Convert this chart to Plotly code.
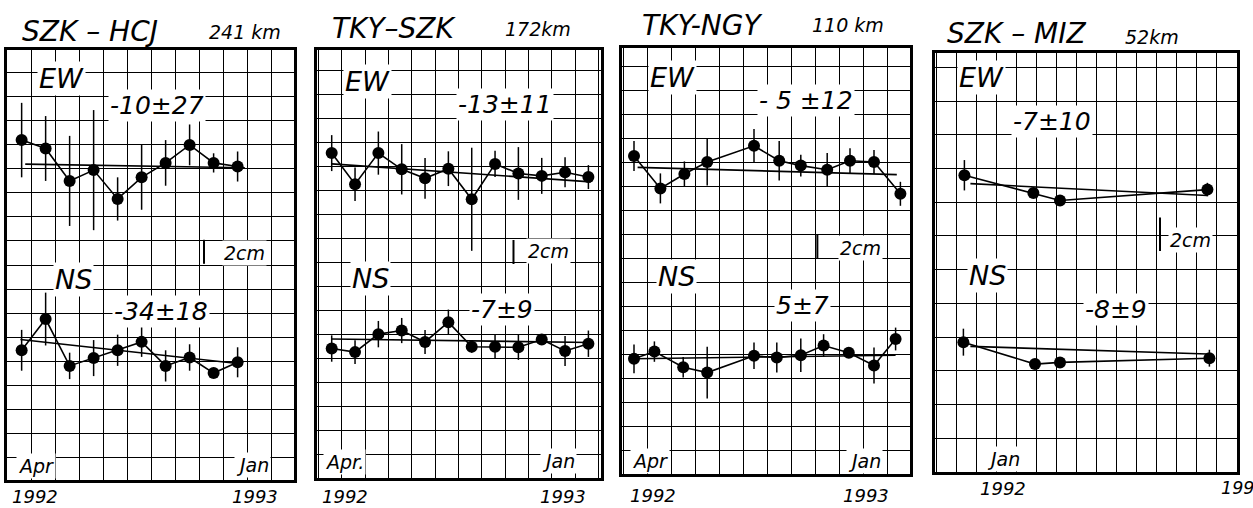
import plotly.graph_objects as go

W, H = 1253, 508
FONT = "DejaVu Sans"

# ---------------- data (cm offsets, months) ----------------
# Panel 1: SZK-HCJ, months since Apr 1992
p1_t = [0, 1, 2, 3, 4, 5, 6, 7, 8, 9]
p1_ew = [28.4, 27.7, 25.0, 25.9, 23.5, 25.3, 26.5, 28.0, 26.5, 26.2]
p1_ew_err = [3.1, 2.7, 3.75, 5.0, 1.8, 2.7, 1.9, 1.7, 0.8, 1.25]
p1_ew_fit_t = [0.15, 9.3]
p1_ew_fit = [26.4, 26.1]
p1_ns = [10.9, 13.5, 9.6, 10.25, 10.9, 11.6, 9.6, 10.3, 9.0, 9.9]
p1_ns_err = [1.7, 2.2, 1.1, 1.5, 1.3, 1.25, 1.3, 1.1, 0.4, 1.25]
p1_ns_fit_t = [-0.05, 9.0]
p1_ns_fit = [11.8, 9.8]

# Panel 2: TKY-SZK, months since Apr 1992
p2_t = [0, 1, 2, 3, 4, 5, 6, 7, 8, 9, 10, 11]
p2_ew = [27.1, 24.5, 27.1, 25.75, 25.0, 25.8, 23.25, 26.2, 25.4, 25.2, 25.5, 25.1]
p2_ew_err = [1.5, 1.4, 1.8, 2.1, 1.7, 1.45, 4.3, 1.1, 2.2, 1.5, 1.25, 1.0]
p2_ew_fit_t = [0, 11.1]
p2_ew_fit = [26.2, 24.7]
p2_ns = [10.8, 10.5, 12.0, 12.3, 11.35, 13.0, 10.95, 10.95, 10.9, 11.55, 10.6, 11.2]
p2_ns_err = [1.1, 1.0, 1.1, 1.05, 1.0, 1.05, 0.5, 1.0, 1.05, 0.4, 1.25, 1.1]
p2_ns_fit_t = [0, 11.1]
p2_ns_fit = [11.6, 11.3]

# Panel 3: TKY-NGY, months since Apr 1992
p3_ew_t = [0, 1.1, 2.1, 3.05, 5.0, 6.05, 6.95, 8.05, 9.0, 10.0, 11.1]
p3_ew = [26.5, 23.8, 25.0, 26.0, 27.35, 26.1, 25.7, 25.35, 26.1, 26.0, 23.35]
p3_ew_err = [1.25, 1.25, 1.05, 1.95, 1.4, 1.65, 0.9, 1.4, 1.05, 1.0, 1.0]
p3_ew_fit_t = [0.15, 10.95]
p3_ew_fit = [25.55, 24.95]
p3_ns_t = [0, 0.85, 2.05, 3.05, 5.0, 5.95, 6.95, 7.9, 8.95, 10.0, 10.9]
p3_ns = [9.6, 10.2, 8.9, 8.45, 9.85, 9.7, 9.9, 10.7, 10.1, 9.05, 11.25]
p3_ns_err = [1.2, 0.85, 0.85, 2.15, 1.1, 1.25, 1.4, 0.95, 0.3, 1.5, 0.95]
p3_ns_fit_t = [0, 10.9]
p3_ns_fit = [9.6, 9.9]

# Panel 4: SZK-MIZ, months since Jan 1992
p4_ew_t = [-1.95, 1.5, 2.83, 10.2]
p4_ew = [17.6, 16.55, 16.1, 16.75]
p4_ew_err = [0.9, 0.2, 0.2, 0.4]
p4_ew_fit_t = [-1.65, 10.2]
p4_ew_fit = [17.1, 16.4]
p4_ns_t = [-2.0, 1.58, 2.83, 10.3]
p4_ns = [7.7, 6.4, 6.5, 6.75]
p4_ns_err = [0.8, 0.2, 0.2, 0.5]
p4_ns_fit_t = [-1.65, 10.2]
p4_ns_fit = [7.45, 7.0]

titles = ["SZK – HCJ", "TKY–SZK", "TKY-NGY", "SZK – MIZ"]
lengths = ["241 km", "172km", "110 km", "52km"]
ew_rates = ["-10±27", "-13±11", "- 5 ±12", "-7±10"]
ns_rates = ["-34±18", "-7±9", "5±7", "-8±9"]
scale_len = 2  # cm

panels = [
    dict(ew_t=p1_t, ew=p1_ew, ew_err=p1_ew_err, ewf_t=p1_ew_fit_t, ewf=p1_ew_fit,
         ns_t=p1_t, ns=p1_ns, ns_err=p1_ns_err, nsf_t=p1_ns_fit_t, nsf=p1_ns_fit,
         box=(7, 50, 294, 480), xr=(-0.61, 11.35), yr=(0.1, 35.9), xt0=0.42,
         bar=(7.6, 18.1)),
    dict(ew_t=p2_t, ew=p2_ew, ew_err=p2_ew_err, ewf_t=p2_ew_fit_t, ewf=p2_ew_fit,
         ns_t=p2_t, ns=p2_ns, ns_err=p2_ns_err, nsf_t=p2_ns_fit_t, nsf=p2_ns_fit,
         box=(317, 50, 601, 478), xr=(-0.63, 11.54), yr=(0.0, 35.7), xt0=0.43,
         bar=(7.79, 17.85)),
    dict(ew_t=p3_ew_t, ew=p3_ew, ew_err=p3_ew_err, ewf_t=p3_ew_fit_t, ewf=p3_ew_fit,
         ns_t=p3_ns_t, ns=p3_ns, ns_err=p3_ns_err, nsf_t=p3_ns_fit_t, nsf=p3_ns_fit,
         box=(622, 48, 910, 474), xr=(-0.5, 11.5), yr=(0.0, 35.5), xt0=0.55,
         bar=(7.64, 17.97)),
    dict(ew_t=p4_ew_t, ew=p4_ew, ew_err=p4_ew_err, ewf_t=p4_ew_fit_t, ewf=p4_ew_fit,
         ns_t=p4_ns_t, ns=p4_ns, ns_err=p4_ns_err, nsf_t=p4_ns_fit_t, nsf=p4_ns_fit,
         box=(935, 53, 1237, 472), xr=(-3.42, 11.68), yr=(0.0, 24.85), xt0=0.67,
         bar=(7.83, 13.1)),
]

fig = go.Figure()
shapes = []
annotations = []


def txt(x, y, s, size, xanchor="center", bg=True):
    annotations.append(dict(
        x=x / W, y=1 - y / H, xref="paper", yref="paper", text=s,
        showarrow=False, xanchor=xanchor, yanchor="middle",
        font=dict(family=FONT, size=size, color="black", style="italic"),
        bgcolor="white" if bg else "rgba(0,0,0,0)", borderpad=1))


for i, p in enumerate(panels, start=1):
    xa = "x" if i == 1 else f"x{i}"
    ya = "y" if i == 1 else f"y{i}"
    for t, v, e in ((p["ew_t"], p["ew"], p["ew_err"]), (p["ns_t"], p["ns"], p["ns_err"])):
        fig.add_trace(go.Scatter(
            x=t, y=v, mode="lines+markers", xaxis=xa, yaxis=ya,
            line=dict(color="black", width=1.6),
            marker=dict(color="black", size=12),
            error_y=dict(type="data", array=e, visible=True, thickness=1.5, width=0, color="black"),
            showlegend=False, hoverinfo="skip"))
    for t, v in ((p["ewf_t"], p["ewf"]), (p["nsf_t"], p["nsf"])):
        fig.add_trace(go.Scatter(
            x=t, y=v, mode="lines", xaxis=xa, yaxis=ya,
            line=dict(color="black", width=1.6), showlegend=False, hoverinfo="skip"))
    x0, y0, x1, y1 = p["box"]
    axis_common = dict(showgrid=True, gridcolor="black", gridwidth=1.2, zeroline=False,
                       showticklabels=False, ticks="", showline=True, mirror=True,
                       linecolor="black", linewidth=2.6, fixedrange=True)
    fig.update_layout(**{
        ("xaxis" if i == 1 else f"xaxis{i}"): dict(
            domain=[x0 / W, x1 / W], range=list(p["xr"]), anchor=ya,
            tick0=p["xt0"], dtick=1, **axis_common),
        ("yaxis" if i == 1 else f"yaxis{i}"): dict(
            domain=[1 - y1 / H, 1 - y0 / H], range=list(p["yr"]), anchor=xa,
            tick0=0, dtick=2, **axis_common),
    })
    bx, by = p["bar"]
    shapes.append(dict(type="line", xref=xa, yref=ya, x0=bx, x1=bx, y0=by, y1=by + scale_len,
                       line=dict(color="black", width=2)))

# ---- text labels (pixel positions) ----
TS, LS, BS, RS, SS, AS, YS = 28, 19, 27, 25, 19, 19, 18
# panel 1
txt(20, 31, titles[0], TS, "left", bg=False)
txt(207, 32, lengths[0], LS, "left", bg=False)
txt(61, 79, "EW", BS)
txt(157, 106, ew_rates[0], RS)
txt(73, 279, "NS", BS)
txt(161, 311, ns_rates[0], RS)
txt(244, 253, "2cm", SS)
txt(36, 466, "Apr", AS)
txt(252, 465, "Jan", AS)
txt(35, 496, "1992", YS, bg=False)
txt(255, 496, "1993", YS, bg=False)
# panel 2
txt(330, 28, titles[1], TS, "left", bg=False)
txt(503, 29, lengths[1], LS, "left", bg=False)
txt(367, 82, "EW", BS)
txt(505, 105, ew_rates[1], RS)
txt(548, 251, "2cm", SS)
txt(370, 278, "NS", BS)
txt(502, 309, ns_rates[1], RS)
txt(344, 462, "Apr.", AS)
txt(558, 461, "Jan", AS)
txt(345, 496, "1992", YS, bg=False)
txt(563, 496, "1993", YS, bg=False)
# panel 3
txt(640, 25, titles[2], TS, "left", bg=False)
txt(810, 25, lengths[2], LS, "left", bg=False)
txt(672, 78, "EW", BS)
txt(806, 101, ew_rates[2], RS)
txt(860, 248, "2cm", SS)
txt(676, 276, "NS", BS)
txt(802, 305, ns_rates[2], RS)
txt(650, 461, "Apr", AS)
txt(864, 461, "Jan", AS)
txt(653, 495, "1992", YS, bg=False)
txt(866, 495, "1993", YS, bg=False)
# panel 4
txt(945, 33, titles[3], TS, "left", bg=False)
txt(1123, 37, lengths[3], LS, "left", bg=False)
txt(981, 78, "EW", BS)
txt(1052, 121, ew_rates[3], RS)
txt(1190, 240, "2cm", SS)
txt(987, 275, "NS", BS)
txt(1116, 309, ns_rates[3], RS)
txt(1003, 459, "Jan", AS)
txt(1003, 488, "1992", YS, bg=False)
txt(1219, 488, "199", 17.5, "left", bg=False)

fig.update_layout(
    width=W, height=H, margin=dict(l=0, r=0, t=0, b=0),
    paper_bgcolor="white", plot_bgcolor="white",
    shapes=shapes, annotations=annotations, showlegend=False)

fig.write_html("out.html", config={"displayModeBar": False},
               post_script="document.body.style.margin='0';document.body.style.overflow='hidden';")
